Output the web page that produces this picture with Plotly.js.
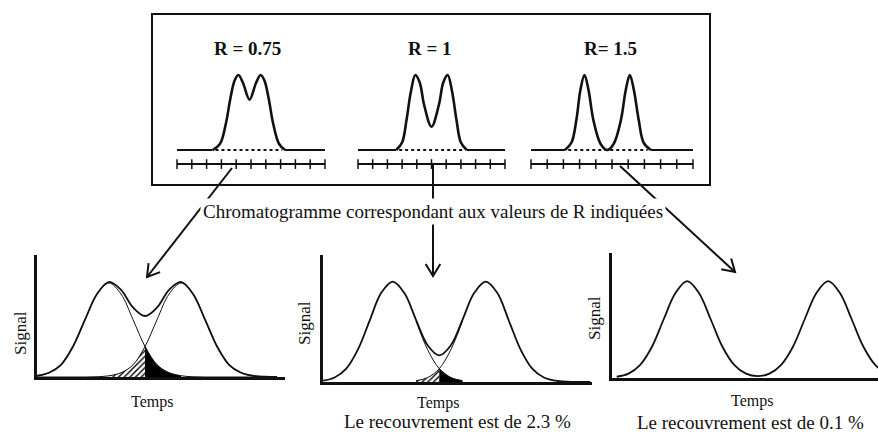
<!DOCTYPE html>
<html>
<head>
<meta charset="utf-8">
<script src="https://cdn.plot.ly/plotly-3.0.1.min.js"></script>
<style>html,body{margin:0;padding:0;background:#fff;}#chart{width:878px;height:432px;}</style>
</head>
<body>
<div id="chart"></div>
<script>
// ---------- DATA ----------
// Top box: three schematic chromatograms (arbitrary units)
const panelLabels = ['R = 0.75', 'R = 1', 'R= 1.5'];
const tickPos = [0, 1, 2, 3, 4, 5, 6, 7, 8, 9, 10];
const p1x = [2.4, 2.9, 3.3, 3.6, 3.9, 4.15, 4.45, 4.9, 5.35, 5.65, 5.9, 6.2, 6.5, 6.9, 7.3];
const p1y = [0, 0.08, 0.35, 0.68, 0.93, 1.0, 0.9, 0.67, 0.9, 1.0, 0.93, 0.68, 0.35, 0.08, 0];
const p2x = [2.6, 3.0, 3.3, 3.6, 3.9, 4.2, 4.5, 5.0, 5.5, 5.8, 6.1, 6.4, 6.7, 7.0, 7.4];
const p2y = [0, 0.1, 0.4, 0.78, 1.0, 0.9, 0.6, 0.31, 0.6, 0.9, 1.0, 0.78, 0.4, 0.1, 0];
const p3x = [2.1, 2.5, 2.8, 3.05, 3.3, 3.55, 3.85, 4.3, 4.7, 5.1, 5.55, 5.85, 6.1, 6.35, 6.65, 6.95, 7.4];
const p3y = [0, 0.1, 0.4, 0.8, 1.0, 0.8, 0.4, 0.08, 0, 0.08, 0.4, 0.8, 1.0, 0.8, 0.4, 0.1, 0];

// Bottom chromatograms: Temps (x) vs Signal (y)
const b1x   = [0, 0.5, 1, 1.5, 2, 2.5, 3, 3.5, 4, 4.5, 5, 5.5, 6, 6.5, 7, 7.5, 8, 8.5, 9, 9.5, 10];
const b1A   = [0.01, 0.035, 0.10, 0.25, 0.47, 0.68, 0.77, 0.68, 0.47, 0.25, 0.10, 0.035, 0.01, 0.002, 0, 0, 0, 0, 0, 0, 0];
const b1B   = [0, 0, 0, 0, 0, 0.002, 0.01, 0.035, 0.10, 0.25, 0.47, 0.68, 0.77, 0.68, 0.47, 0.25, 0.10, 0.035, 0.01, 0.002, 0];
const b1Sum = [0.01, 0.035, 0.10, 0.25, 0.47, 0.68, 0.78, 0.715, 0.57, 0.50, 0.57, 0.715, 0.78, 0.68, 0.47, 0.25, 0.10, 0.035, 0.01, 0.002, 0];

const b2x   = [0, 0.5, 1, 1.5, 2, 2.5, 3, 3.5, 4, 4.5, 5, 5.5, 6, 6.5, 7, 7.5, 8, 8.5, 9, 9.5, 10, 10.5, 11, 11.5];
const b2A   = [0.01, 0.035, 0.105, 0.255, 0.48, 0.70, 0.79, 0.70, 0.48, 0.255, 0.105, 0.035, 0.01, 0.002, 0, 0, 0, 0, 0, 0, 0, 0, 0, 0];
const b2B   = [0, 0, 0, 0, 0, 0, 0, 0.002, 0.01, 0.035, 0.105, 0.255, 0.48, 0.70, 0.79, 0.70, 0.48, 0.255, 0.105, 0.035, 0.01, 0.002, 0, 0];
const b2Sum = [0.01, 0.035, 0.105, 0.255, 0.48, 0.70, 0.79, 0.70, 0.49, 0.29, 0.21, 0.29, 0.49, 0.70, 0.79, 0.70, 0.48, 0.255, 0.105, 0.035, 0.01, 0.002, 0, 0];

const b3x   = [0, 0.5, 1, 1.5, 2, 2.5, 3, 3.5, 4, 4.5, 5, 5.5, 6, 6.5, 7, 7.5, 8, 8.5, 9, 9.5, 10, 10.5, 11, 11.5];
const b3Sum = [0.01, 0.035, 0.105, 0.25, 0.47, 0.68, 0.775, 0.68, 0.47, 0.25, 0.105, 0.035, 0.015, 0.035, 0.105, 0.25, 0.47, 0.68, 0.775, 0.68, 0.47, 0.25, 0.105, 0.035];

const middleText = 'Chromatogramme correspondant aux valeurs de R indiquées';
const axisXLabel = 'Temps';
const axisYLabel = 'Signal';
const captions = ['', 'Le recouvrement est de 2.3 %', 'Le recouvrement est de 0.1 %'];

// ---------- HELPERS ----------
const W = 878, H = 432;
const X = p => p / W;
const Y = p => 1 - p / H;
const SERIF = 'Liberation Serif, Times New Roman, Times, serif';
const INK = '#111';

const traces = [];
const shapes = [];
const annotations = [];

// ---------- TOP PANELS ----------
const panels = [
  {x: p1x, y: p1y, xa: 'x',  ya: 'y'},
  {x: p2x, y: p2y, xa: 'x2', ya: 'y2'},
  {x: p3x, y: p3y, xa: 'x3', ya: 'y3'}
];
const tickY = -0.187;
panels.forEach(p => {
  const n = p.x.length;
  const base = {type: 'scatter', mode: 'lines', xaxis: p.xa, yaxis: p.ya, hoverinfo: 'skip', cliponaxis: false};
  traces.push(Object.assign({}, base, {x: [tickPos[0], p.x[0]], y: [0, 0], line: {color: INK, width: 2}}));
  traces.push(Object.assign({}, base, {x: [p.x[n - 1], tickPos[tickPos.length - 1]], y: [0, 0], line: {color: INK, width: 2}}));
  traces.push(Object.assign({}, base, {x: [p.x[0] + 0.2, p.x[n - 1] - 0.2], y: [0, 0], line: {color: INK, width: 2, dash: 'dot'}}));
  traces.push(Object.assign({}, base, {x: p.x, y: p.y, line: {color: INK, width: 2.6, shape: 'spline', smoothing: 1}}));
  traces.push(Object.assign({}, base, {x: [tickPos[0], tickPos[tickPos.length - 1]], y: [tickY, tickY], line: {color: INK, width: 2}}));
  traces.push({type: 'scatter', mode: 'markers', xaxis: p.xa, yaxis: p.ya, hoverinfo: 'skip', cliponaxis: false,
    x: tickPos, y: tickPos.map(() => tickY),
    marker: {symbol: 'line-ns-open', size: 7, color: INK, line: {color: INK, width: 1.5}}});
});

// ---------- BOTTOM PLOTS ----------
function bottom(xa, ya, xs, sum, A, B, hatch, black, comps) {
  const base = {type: 'scatter', mode: 'lines', xaxis: xa, yaxis: ya, hoverinfo: 'skip'};
  if (hatch) {
    traces.push(Object.assign({}, base, {x: xs.slice(hatch[0], hatch[1]), y: B.slice(hatch[0], hatch[1]),
      fill: 'tozeroy', fillcolor: '#fff',
      fillpattern: {shape: '/', fgcolor: '#000', bgcolor: '#fff', size: 4, solidity: 0.35},
      line: {width: 0, shape: 'spline'}}));
  }
  if (black) {
    traces.push(Object.assign({}, base, {x: xs.slice(black[0], black[1]), y: A.slice(black[0], black[1]),
      fill: 'tozeroy', fillcolor: '#000', line: {width: 0.5, color: '#000', shape: 'spline'}}));
  }
  if (A) {
    traces.push(Object.assign({}, base, {x: xs.slice(comps[0], comps[1]), y: A.slice(comps[0], comps[1]), line: {color: INK, width: 1, shape: 'spline'}}));
    traces.push(Object.assign({}, base, {x: xs.slice(comps[0], comps[1]), y: B.slice(comps[0], comps[1]), line: {color: INK, width: 1, shape: 'spline'}}));
  }
  traces.push(Object.assign({}, base, {x: xs, y: sum, line: {color: INK, width: 1.8, shape: 'spline'}}));
}
bottom('x4', 'y4', b1x, b1Sum, b1A, b1B, [6, 10], [9, 13], [0, 21]);
bottom('x5', 'y5', b2x, b2Sum, b2A, b2B, [8, 11], [10, 13], [8, 13]);
bottom('x6', 'y6', b3x, b3Sum, null, null, null, null, null);

// ---------- AXES ----------
const hidden = {visible: false, fixedrange: true};
const shown = {showline: true, linewidth: 3, linecolor: INK, showgrid: false, zeroline: false,
  showticklabels: false, ticks: '', fixedrange: true};
const layout = {
  width: W, height: H,
  margin: {l: 0, r: 0, t: 0, b: 0},
  paper_bgcolor: '#fff', plot_bgcolor: 'rgba(0,0,0,0)',
  showlegend: false,
  font: {family: SERIF, color: INK},
  xaxis:  Object.assign({}, hidden, {domain: [X(177), X(325)], range: [0, 10], anchor: 'y'}),
  yaxis:  Object.assign({}, hidden, {domain: [Y(175), Y(60)], range: [-0.333, 1.2], anchor: 'x'}),
  xaxis2: Object.assign({}, hidden, {domain: [X(358), X(505)], range: [0, 10], anchor: 'y2'}),
  yaxis2: Object.assign({}, hidden, {domain: [Y(175), Y(60)], range: [-0.333, 1.2], anchor: 'x2'}),
  xaxis3: Object.assign({}, hidden, {domain: [X(531), X(693)], range: [0, 10], anchor: 'y3'}),
  yaxis3: Object.assign({}, hidden, {domain: [Y(175), Y(60)], range: [-0.333, 1.2], anchor: 'x3'}),
  xaxis4: Object.assign({}, shown, {domain: [X(37), X(285)], range: [0, 10.33], anchor: 'y4'}),
  yaxis4: Object.assign({}, shown, {domain: [Y(377), Y(255)], range: [0, 1], anchor: 'x4'}),
  xaxis5: Object.assign({}, shown, {domain: [X(323), X(592)], range: [0, 11.57], anchor: 'y5'}),
  yaxis5: Object.assign({}, shown, {domain: [Y(382), Y(255)], range: [0, 1], anchor: 'x5'}),
  xaxis6: Object.assign({}, shown, {domain: [X(612), 1], range: [-0.2, 11.12], anchor: 'y6'}),
  yaxis6: Object.assign({}, shown, {domain: [Y(378), Y(253)], range: [0, 1], anchor: 'x6'}),
  shapes: shapes,
  annotations: annotations
};

// ---------- BOX, ARROWS ----------
shapes.push({type: 'rect', xref: 'paper', yref: 'paper', x0: X(152), x1: X(710), y0: Y(185), y1: Y(14),
  line: {color: INK, width: 2}, fillcolor: 'rgba(0,0,0,0)', layer: 'below'});

function arrow(x1, y1, x2, y2) {
  shapes.push({type: 'line', xref: 'paper', yref: 'paper', x0: X(x1), y0: Y(y1), x1: X(x2), y1: Y(y2),
    line: {color: INK, width: 2}, layer: 'below'});
  const dx = x2 - x1, dy = y2 - y1, L = Math.hypot(dx, dy);
  const bx = -dx / L, by = -dy / L, len = 14, a = 0.55;
  const ax1 = x2 + len * (bx * Math.cos(a) - by * Math.sin(a));
  const ay1 = y2 + len * (bx * Math.sin(a) + by * Math.cos(a));
  const ax2 = x2 + len * (bx * Math.cos(-a) - by * Math.sin(-a));
  const ay2 = y2 + len * (bx * Math.sin(-a) + by * Math.cos(-a));
  shapes.push({type: 'path', xref: 'paper', yref: 'paper',
    path: `M ${X(ax1)} ${Y(ay1)} L ${X(x2)} ${Y(y2)} L ${X(ax2)} ${Y(ay2)}`,
    line: {color: INK, width: 2}, layer: 'below'});
}
arrow(232, 168, 147, 277);
arrow(433, 165, 433, 276);
arrow(620, 166, 735, 272);

// ---------- TEXT ----------
function txt(text, x, y, size, extra) {
  annotations.push(Object.assign({text: text, x: X(x), y: Y(y), xref: 'paper', yref: 'paper',
    showarrow: false, xanchor: 'center', yanchor: 'middle',
    font: {family: SERIF, size: size, color: INK}}, extra || {}));
}
const labelX = [247, 430, 610];
panelLabels.forEach((t, i) => txt('<b>' + t + '</b>', labelX[i], 48, 19));
txt(middleText, 433, 211, 19, {bgcolor: '#fff', borderpad: 2});
const tempsPos = [[152, 402], [438, 403], [752, 401]];
tempsPos.forEach(p => txt(axisXLabel, p[0], p[1], 16));
const capPos = [null, [457, 421], [750, 422]];
captions.forEach((c, i) => { if (c) txt(c, capPos[i][0], capPos[i][1], 19); });
const sigPos = [[20, 333], [304, 323], [594, 318]];
sigPos.forEach(p => txt(axisYLabel, p[0], p[1], 17, {textangle: -90}));

Plotly.newPlot('chart', traces, layout, {staticPlot: true, displayModeBar: false});
</script>
</body>
</html>
